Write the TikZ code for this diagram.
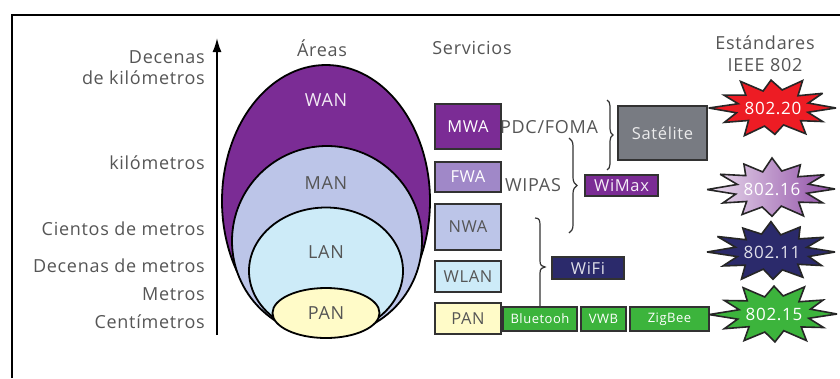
\documentclass[tikz,border=0pt]{standalone}
\usepackage{fontspec}
\setmainfont{Open Sans}[LetterSpace=4]
\usetikzlibrary{shapes.geometric,arrows.meta,decorations.pathreplacing,calc}
\definecolor{txtgray}{RGB}{85,85,85}
\definecolor{wanc}{RGB}{123,44,149}
\definecolor{fwac}{RGB}{160,136,200}
\definecolor{manc}{RGB}{188,197,232}
\definecolor{lanc}{RGB}{205,235,248}
\definecolor{panc}{RGB}{255,251,200}
\definecolor{satc}{RGB}{120,123,130}
\definecolor{navyc}{RGB}{43,42,107}
\definecolor{greenc}{RGB}{60,180,60}
\definecolor{redc}{RGB}{237,28,36}
\definecolor{boxline}{RGB}{50,50,50}
\newcommand{\mystarpath}[3]{%
  \draw[burstline,#2] ($(#1)+(0:63pt and 31pt)$)
    \foreach \a/\r in {#3} { -- ($(#1)+(\a:{63pt*\r} and {31pt*\r})$) } -- cycle;}
\begin{document}
\begin{tikzpicture}[x=1pt,y=-1pt,
  lbl/.style={text=txtgray,font=\fontsize{18}{20}\selectfont,inner sep=0pt},
  ell/.style={ellipse,draw=black,line width=1.8pt,inner sep=0pt},
  svc/.style={draw=boxline,line width=1.5pt,inner sep=0pt,font=\fontsize{16.5}{18}\selectfont},
  small/.style={draw=boxline,line width=1.5pt,inner sep=0pt,fill=greenc,text=white,font=\fontsize{13}{14}\selectfont},
  burstline/.style={draw=black!85,line width=1.6pt,line join=miter,miter limit=4},
  bursttext/.style={inner sep=0pt,font=\fontsize{17}{19}\selectfont},
  brc/.style={decorate,decoration={brace,amplitude=6pt},draw=black!80,line width=1.2pt}]
\useasboundingbox (0,0) rectangle (840,378);
% frame
\draw[line width=2.5pt] (12,378) -- (12,15) -- (840,15);
% axis
\coordinate (axb) at (217,335);
\coordinate (axt) at (217,38);
\draw[line width=1.6pt,-{Latex[length=14pt,width=9pt]}] (axb) -- (axt);
% scale labels
\node[lbl,anchor=east] (l1) at (205,57) {Decenas};
\node[lbl,anchor=east] (l2) at (205,78) {de kilómetros};
\node[lbl,anchor=east] (l3) at (205,163) {kilómetros};
\node[lbl,anchor=east] (l4) at (205,229) {Cientos de metros};
\node[lbl,anchor=east] (l5) at (205,266) {Decenas de metros};
\node[lbl,anchor=east] (l6) at (205,294) {Metros};
\node[lbl,anchor=east] (l7) at (205,322) {Centímetros};
% headers
\node[lbl] (hA) at (322,48) {Áreas};
\node[lbl] (hS) at (472,48) {Servicios};
\node[lbl] (hE1) at (765,43) {Estándares};
\node[lbl] (hE2) at (765,65) {IEEE 802};
% ellipses
\node[ell,fill=wanc,minimum width=208pt,minimum height=272pt] (wan) at (326,201) {};
\node[ell,fill=manc,minimum width=190pt,minimum height=190pt] (man) at (327,241) {};
\node[ell,fill=lanc,minimum width=154pt,minimum height=127pt] (lan) at (326,271) {};
\node[ell,fill=panc,minimum width=107pt,minimum height=50pt] (pan) at (326,313) {};
\node[lbl,text=white!90!wanc] (twan) at (326,100) {WAN};
\node[lbl] (tman) at (326,183) {MAN};
\node[lbl] (tlan) at (326,252) {LAN};
\node[lbl] (tpan) at (326,313) {PAN};
% service boxes
\node[svc,fill=wanc,text=white,minimum width=66pt,minimum height=45pt] (mwa) at (468,126.5) {MWA};
\node[svc,fill=fwac,text=white,minimum width=66pt,minimum height=30pt] (fwa) at (468,177) {FWA};
\node[svc,fill=manc,text=txtgray,minimum width=66pt,minimum height=46pt] (nwa) at (468,227) {NWA};
\node[svc,fill=lanc,text=txtgray,minimum width=66pt,minimum height=31pt] (wlan) at (468,276.5) {WLAN};
\node[svc,fill=panc,text=txtgray,minimum width=66pt,minimum height=31pt] (ppan) at (468,318.5) {PAN};
\node[small,minimum width=74pt,minimum height=24pt] (bt) at (540,319) {Bluetooh};
\node[small,minimum width=45pt,minimum height=24pt] (vwb) at (603.5,319) {VWB};
\node[small,minimum width=79pt,minimum height=24pt] (zig) at (669.5,319) {ZigBee};
\node[lbl] (pdc) at (549,127) {PDC/FOMA};
\node[lbl] (wipas) at (533,185) {WIPAS};
\node[svc,fill=satc,text=white!85!satc,minimum width=89pt,minimum height=54pt] (sat) at (662.5,133) {Satélite};
\node[svc,fill=wanc,text=white!92!wanc,minimum width=73pt,minimum height=21pt] (wimax) at (621.5,185.5) {WiMax};
\node[svc,fill=navyc,text=white!85!navyc,minimum width=72pt,minimum height=22pt] (wifi) at (588,268) {WiFi};
% braces
\coordinate (b1t) at (607,100);
\coordinate (b1b) at (607,170);
\draw[brc] (b1t) -- (b1b);
\coordinate (b2t) at (569,138);
\coordinate (b2b) at (569,233);
\draw[brc,decoration={brace,amplitude=8pt}] (b2t) -- (b2b);
\coordinate (b3t) at (535,218);
\draw[draw=black!80,line width=1.2pt] (b3t) .. controls (539,218) and (540,220) .. (540,225) -- (540,261) .. controls (540,265) and (542,267) .. (545,267) .. controls (542,267) and (540,269) .. (540,273) -- (bt.north);
% starbursts
\coordinate (c20) at (773,108);
\coordinate (c16) at (772,189);
\coordinate (c11) at (772,252);
\coordinate (c15) at (774,314);
\mystarpath{c20}{fill=redc}{16/0.58,31/0.92,45/0.56,62/1.0,76/0.6,92/0.9,106/0.57,121/1.0,136/0.6,152/0.88,166/0.57,180/1.02,195/0.6,211/0.9,226/0.56,243/1.0,257/0.6,272/0.85,287/0.57,302/0.98,317/0.6,331/0.9,346/0.57}
\mystarpath{c16}{left color=white!85!wanc,right color=wanc!85}{15/0.6,29/0.95,44/0.57,60/0.9,75/0.6,90/1.0,105/0.57,119/0.92,134/0.6,150/0.95,165/0.57,181/1.03,196/0.6,210/0.9,225/0.57,240/0.95,255/0.6,270/0.88,285/0.57,300/1.0,315/0.6,331/0.92,346/0.57}
\mystarpath{c11}{fill=navyc}{15/0.57,30/0.95,45/0.6,61/0.92,76/0.57,91/0.98,106/0.6,121/0.9,136/0.57,150/1.0,165/0.6,180/1.03,195/0.57,210/0.9,225/0.6,241/1.0,256/0.57,271/0.88,286/0.6,301/0.95,316/0.57,331/0.9,346/0.6}
\mystarpath{c15}{fill=greenc}{15/0.6,30/0.9,45/0.56,61/1.0,76/0.6,90/0.9,105/0.57,120/0.98,135/0.6,151/0.9,166/0.57,181/1.03,196/0.6,211/0.92,226/0.57,241/0.98,256/0.6,271/0.9,286/0.56,301/1.0,316/0.6,331/0.9,346/0.57}
\node[bursttext,text=white] (s20) at (c20) {802.20};
\node[bursttext,text=white] (s16) at (c16) {802.16};
\node[bursttext,text=white!85!navyc] (s11) at (c11) {802.11};
\node[bursttext,text=white] (s15) at (c15) {802.15};
\end{tikzpicture}
\end{document}
